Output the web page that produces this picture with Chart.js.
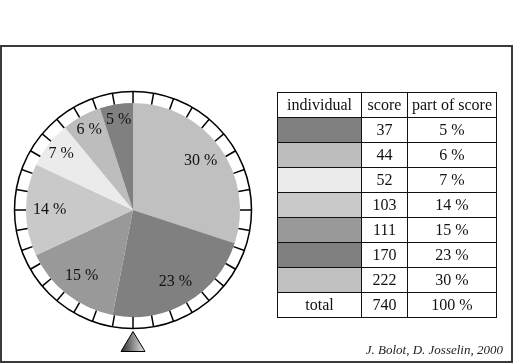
<!DOCTYPE html>
<html>
<head>
<meta charset="utf-8">
<script src="https://cdn.jsdelivr.net/npm/chart.js@4"></script>
<style>
  html, body { margin: 0; padding: 0; background: #fff; }
  #wrap { position: relative; width: 513px; height: 363px; overflow: hidden; }
  #frame { position: absolute; left: 0; top: 45px; width: 513px; height: 318px;
           box-sizing: border-box; border: 2px solid #3a3a3a; }
  #pie { position: absolute; left: 0; top: 0; }
  #scoreTable { position: absolute; left: 277px; top: 92px; border-collapse: collapse;
                font-family: "Liberation Serif", "DejaVu Serif", serif; font-size: 16px; color: #111; }
  #scoreTable td { border: 1.5px solid #111; height: 24px; padding: 0; text-align: center; line-height: 22px; }
  #caption { position: absolute; right: 10px; top: 342px; font-family: "Liberation Serif", serif;
             font-style: italic; font-size: 13px; color: #222; }
</style>
</head>
<body>
<div id="wrap">
  <div id="frame"></div>
  <canvas id="pie" width="513" height="363"></canvas>
  <table id="scoreTable"></table>
  <div id="caption">J. Bolot, D. Josselin, 2000</div>
</div>
<script>
// table order (ascending score)
const scores = [37, 44, 52, 103, 111, 170, 222];
const shades = ['#808080', '#bdbdbd', '#ebebeb', '#c9c9c9', '#999999', '#808080', '#c0c0c0'];
const headers = ['individual', 'score', 'part of score'];
const totalLabel = 'total';
const totalScore = 740; // as printed in the source table

const percents = scores.map(v => Math.round(v / totalScore * 100) + ' %');

// Build table
const table = document.getElementById('scoreTable');
const colWidths = [83, 45, 88];
function addRow(cells, swatch) {
    const tr = document.createElement('tr');
    cells.forEach((txt, i) => {
        const td = document.createElement('td');
        td.style.width = colWidths[i] + 'px';
        if (i === 0 && swatch) td.style.background = swatch;
        else td.textContent = txt;
        tr.appendChild(td);
    });
    table.appendChild(tr);
}
addRow(headers);
scores.forEach((s, i) => addRow(['', String(s), percents[i]], shades[i]));
addRow([totalLabel, String(totalScore), '100 %']);

// pie goes clockwise from the top, largest first
const pieScores = scores.slice().reverse();
const pieColors = shades.slice().reverse();
const pieLabels = percents.slice().reverse();

// dial ring + pointer drawn around the pie
const dialPlugin = {
    id: 'dial',
    afterDatasetsDraw(chart) {
        const arc = chart.getDatasetMeta(0).data[0];
        const cx = arc.x, cy = arc.y, r = arc.outerRadius;
        const rOut = r + 11.5;
        const ctx = chart.ctx;
        ctx.save();
        ctx.strokeStyle = '#000';
        ctx.lineWidth = 1.5;
        ctx.beginPath();
        ctx.arc(cx, cy, rOut, 0, Math.PI * 2);
        ctx.stroke();
        for (let i = 0; i < 36; i++) {
            const a = -Math.PI / 2 + i * Math.PI / 18;
            ctx.beginPath();
            ctx.moveTo(cx + Math.cos(a) * r, cy + Math.sin(a) * r);
            ctx.lineTo(cx + Math.cos(a) * rOut, cy + Math.sin(a) * rOut);
            ctx.stroke();
        }
        // pointer triangle
        const top = cy + rOut + 3, bot = top + 20, half = 12;
        const grad = ctx.createLinearGradient(cx - half, 0, cx + half, 0);
        grad.addColorStop(0, '#2e2e2e');
        grad.addColorStop(1, '#e6e6e6');
        ctx.beginPath();
        ctx.moveTo(cx, top);
        ctx.lineTo(cx + half, bot);
        ctx.lineTo(cx - half, bot);
        ctx.closePath();
        ctx.fillStyle = grad;
        ctx.fill();
        ctx.lineWidth = 1;
        ctx.stroke();

        // slice labels
        ctx.fillStyle = '#111';
        ctx.font = '16px "Liberation Serif", serif';
        ctx.textAlign = 'center';
        ctx.textBaseline = 'middle';
        chart.getDatasetMeta(0).data.forEach((el, i) => {
            const mid = (el.startAngle + el.endAngle) / 2;
            const k = (el.endAngle - el.startAngle) < 0.5 ? 0.85 : 0.78;
            ctx.fillText(pieLabels[i], cx + Math.cos(mid) * r * k, cy + Math.sin(mid) * r * k);
        });
        ctx.restore();
    }
};

new Chart(document.getElementById('pie').getContext('2d'), {
    type: 'pie',
    data: {
        labels: pieLabels,
        datasets: [{
            data: pieScores,
            backgroundColor: pieColors,
            borderWidth: 0
        }]
    },
    options: {
        responsive: false,
        animation: false,
        layout: { padding: { left: 26, right: 273, top: 103, bottom: 46 } },
        plugins: { legend: { display: false }, tooltip: { enabled: false } }
    },
    plugins: [dialPlugin]
});
</script>
</body>
</html>
